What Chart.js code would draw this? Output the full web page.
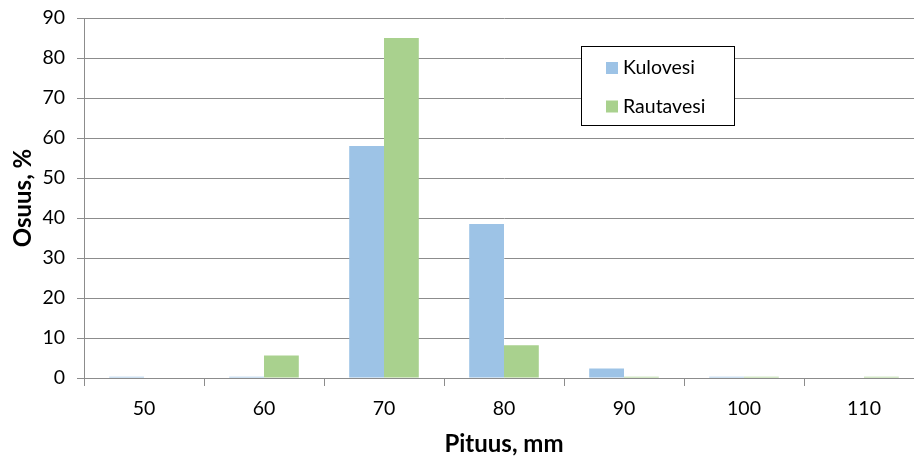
<!DOCTYPE html>
<html>
<head>
<meta charset="utf-8">
<script src="https://cdn.jsdelivr.net/npm/chart.js@4"></script>
<style>
html,body{margin:0;padding:0;background:#fff;overflow:hidden;width:914px;height:459px;}
canvas{display:block;}
</style>
</head>
<body>
<canvas id="c" width="930" height="459"></canvas>
<script>
const categories = ['50','60','70','80','90','100','110'];
const kulovesi = [0.3, 0.3, 58, 38.5, 2.4, 0.3, 0];
const rautavesi = [0, 5.6, 85, 8.2, 0.3, 0.3, 0.3];
const seriesNames = ['Kulovesi','Rautavesi'];
const yTicks = [0,10,20,30,40,50,60,70,80,90];

const FONT = 'Lato, "Open Sans", sans-serif';

const boxLegend = {
  id: 'boxLegend',
  afterDraw(chart) {
    const ctx = chart.ctx;
    const x = 581, y = 46, w = 153, h = 79;
    ctx.save();
    ctx.fillStyle = '#fff';
    ctx.fillRect(x, y, w, h);
    ctx.strokeStyle = '#000';
    ctx.lineWidth = 1;
    ctx.strokeRect(x + 0.5, y + 0.5, w, h);
    ctx.font = '19.5px ' + FONT;
    ctx.textBaseline = 'middle';
    chart.data.datasets.forEach((ds, i) => {
      const cy = y + 22 + i * 38.5;
      ctx.fillStyle = ds.backgroundColor;
      ctx.fillRect(x + 25, cy - 6, 12, 12);
      ctx.fillStyle = '#000';
      ctx.fillText(ds.label, x + 42, cy);
    });
    ctx.restore();
  }
};

new Chart(document.getElementById('c'), {
  type: 'bar',
  data: {
    labels: categories,
    datasets: [
      { label: seriesNames[0], data: kulovesi, backgroundColor: '#9DC3E6' },
      { label: seriesNames[1], data: rautavesi, backgroundColor: '#A9D18E' }
    ]
  },
  options: {
    responsive: false,
    animation: false,
    layout: { padding: { top: 18, right: 6, left: 0, bottom: 0 } },
    datasets: { bar: { categoryPercentage: 0.58, barPercentage: 1.0 } },
    plugins: { legend: { display: false }, tooltip: { enabled: false } },
    scales: {
      x: {
        afterFit(axis) { axis.height = 81; },
        grid: { offset: true, drawOnChartArea: false, drawTicks: true, tickLength: 8, color: '#8c8c8c' },
        border: { color: '#8c8c8c' },
        ticks: { color: '#000', font: { family: FONT, size: 19.5 }, padding: 11 },
        title: { display: true, text: 'Pituus, mm', color: '#000', font: { family: FONT, size: 24, weight: 'bold' }, padding: { top: 0, bottom: 0 } }
      },
      y: {
        min: 0, max: 90,
        afterFit(axis) { axis.width = 84; axis.paddingTop = 0; axis.paddingBottom = 0; },
        afterBuildTicks(axis) { axis.ticks = yTicks.map(v => ({ value: v })); },
        grid: { color: '#8c8c8c', drawTicks: true, tickLength: 7 },
        border: { color: '#8c8c8c' },
        ticks: { color: '#000', font: { family: FONT, size: 19.5 }, padding: 12 },
        title: { display: true, text: 'Osuus, %', color: '#000', font: { family: FONT, size: 24, weight: 'bold' }, padding: { top: 9, bottom: 0 } }
      }
    }
  },
  plugins: [boxLegend]
});
</script>
</body>
</html>
